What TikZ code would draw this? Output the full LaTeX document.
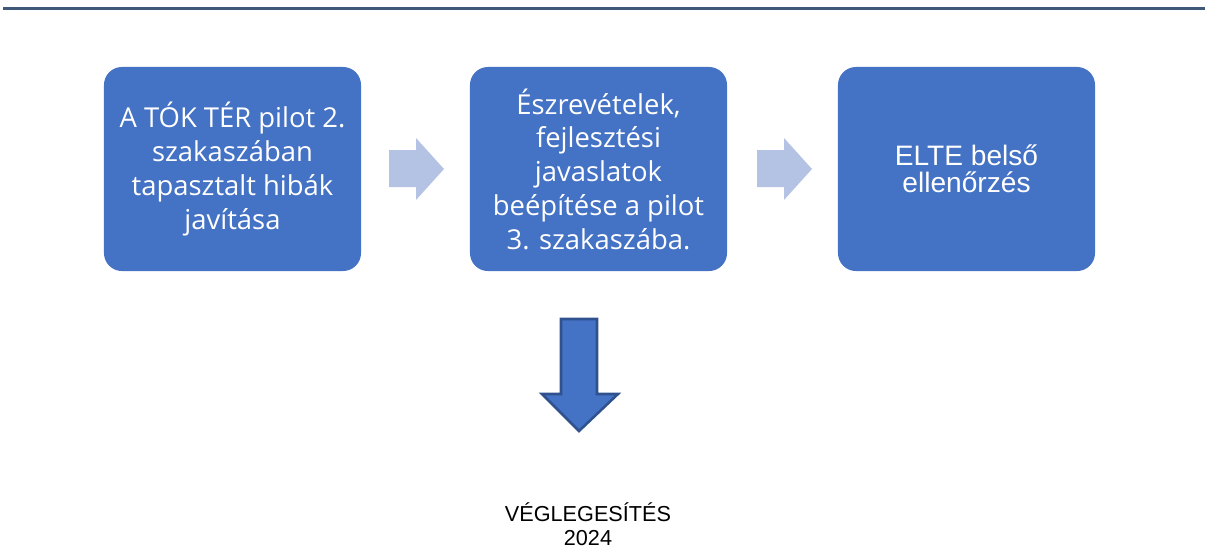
\documentclass[tikz,border=0pt]{standalone}
\usepackage{fontspec}
\setmainfont{Open Sans}
\newfontfamily\arialfont{Liberation Sans}
\usetikzlibrary{positioning}
\definecolor{boxblue}{HTML}{4472C4}
\definecolor{boxedge}{HTML}{2F528F}
\definecolor{arrowlight}{HTML}{B4C3E3}
\definecolor{rulecol}{HTML}{3F5878}
\tikzset{
  stepbox/.style={rectangle, rounded corners=0.45cm, fill=boxblue, text=white,
    minimum width=6.425cm, minimum height=5.1cm, align=center, inner sep=0pt},
  opentext/.style={font=\fontsize{19.5}{24}\selectfont},
  ariatext/.style={font=\arialfont\fontsize{20}{19.4}\selectfont}
}
\begin{document}
\begin{tikzpicture}[x=0.025cm, y=-0.025cm]
\useasboundingbox (0,0) rectangle (1205,549);
% Top rule
\draw[rulecol, line width=2.2pt] (3,8.5) -- (1205,8.5);
% Step boxes
\node[stepbox, opentext] (box1) at (232.5,169) {A TÓK TÉR pilot 2.\\szakaszában\\tapasztalt hibák\\javítása};
\node[stepbox, opentext] (box2) at (598.5,169) {Észrevételek,\\fejlesztési\\javaslatok\\beépítése a pilot\\3. szakaszába.};
\node[stepbox, ariatext] (box3) at (966.5,169) {ELTE belső\\ellenőrzés};
% Light arrows between boxes
\fill[arrowlight] (389,150) -- (416,150) -- (416,138) -- (444,169) -- (416,200) -- (416,187) -- (389,187) -- cycle;
\fill[arrowlight] (757,150) -- (784,150) -- (784,138) -- (812,169) -- (784,200) -- (784,187) -- (757,187) -- cycle;
% Down arrow
\draw[boxedge, fill=boxblue, line width=1.8pt, line join=miter] (561,319) -- (597,319) -- (597,394) -- (618,394) -- (579,431) -- (542,394) -- (561,394) -- cycle;
% Result
\node[font=\arialfont\fontsize{15.4}{17}\selectfont, align=center] (final) at (588,524) {VÉGLEGESÍTÉS\\2024};
\end{tikzpicture}
\end{document}
